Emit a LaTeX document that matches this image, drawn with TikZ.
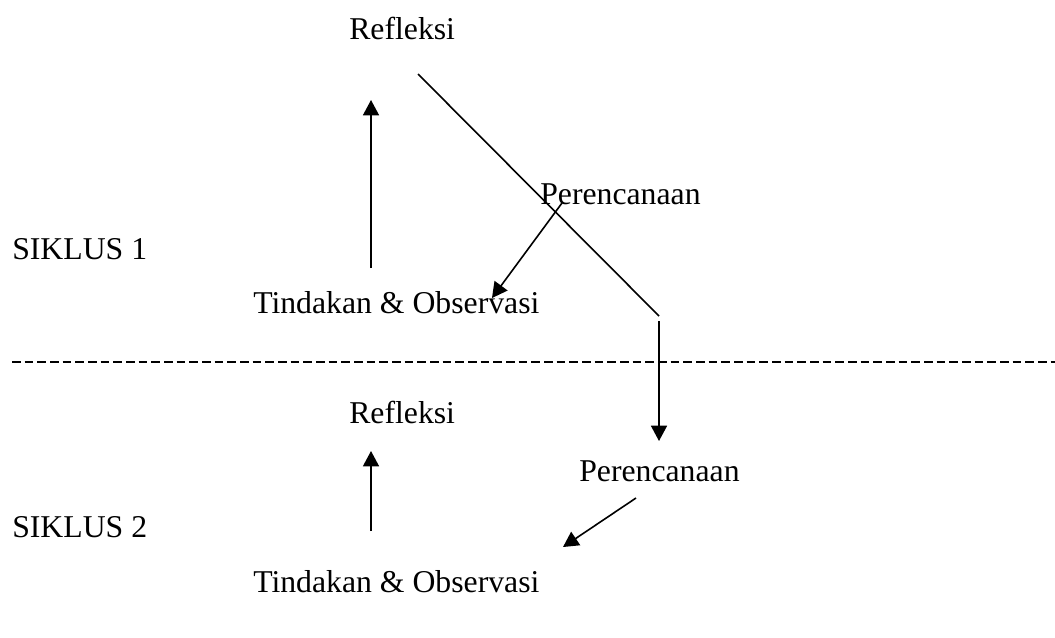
\documentclass[tikz,border=0pt]{standalone}
\usepackage{fontspec}
\setmainfont{Liberation Serif}
\usetikzlibrary{arrows.meta}
\begin{document}
\begin{tikzpicture}[x=0.75pt,y=-0.75pt,
  lbl/.style={anchor=base west,inner sep=0pt,font=\fontsize{23.8}{28}\selectfont},
  conn/.style={line width=1.2pt},
  arr/.style={conn,-{Triangle[length=11.5pt,width=12pt]}},
  sep/.style={line width=1.6pt,dash pattern=on 6.5pt off 3pt}]
\useasboundingbox (0,0) rectangle (1055,637);
% labels
\node[lbl] (ref1) at (349,39) {Refleksi};
\node[lbl] (per1) at (540,204) {Perencanaan};
\node[lbl] (sik1) at (12,259) {SIKLUS 1};
\node[lbl] (tin1) at (253,313) {Tindakan \& Observasi};
\node[lbl] (ref2) at (349,423) {Refleksi};
\node[lbl] (per2) at (579,481) {Perencanaan};
\node[lbl] (sik2) at (12,537) {SIKLUS 2};
\node[lbl] (tin2) at (253,592) {Tindakan \& Observasi};
% connector end points
\coordinate (a1s) at (371,268);
\coordinate (a1e) at (371,100);
\coordinate (d1s) at (418,74);
\coordinate (d1e) at (659,316);
\coordinate (v1s) at (659,321);
\coordinate (v1e) at (659,441);
\coordinate (p1s) at (562,203);
\coordinate (p1e) at (492,298);
\coordinate (a2s) at (371,531);
\coordinate (a2e) at (371,451);
\coordinate (p2s) at (636,498);
\coordinate (p2e) at (563,547);
\coordinate (sepL) at (12,362);
\coordinate (sepR) at (1055,362);
% connectors
\draw[arr] (a1s) -- (a1e);
\draw[conn] (d1s) -- (d1e);
\draw[arr] (v1s) -- (v1e);
\draw[arr] (p1s) -- (p1e);
\draw[arr] (a2s) -- (a2e);
\draw[arr] (p2s) -- (p2e);
\draw[sep] (sepL) -- (sepR);
\end{tikzpicture}
\end{document}
